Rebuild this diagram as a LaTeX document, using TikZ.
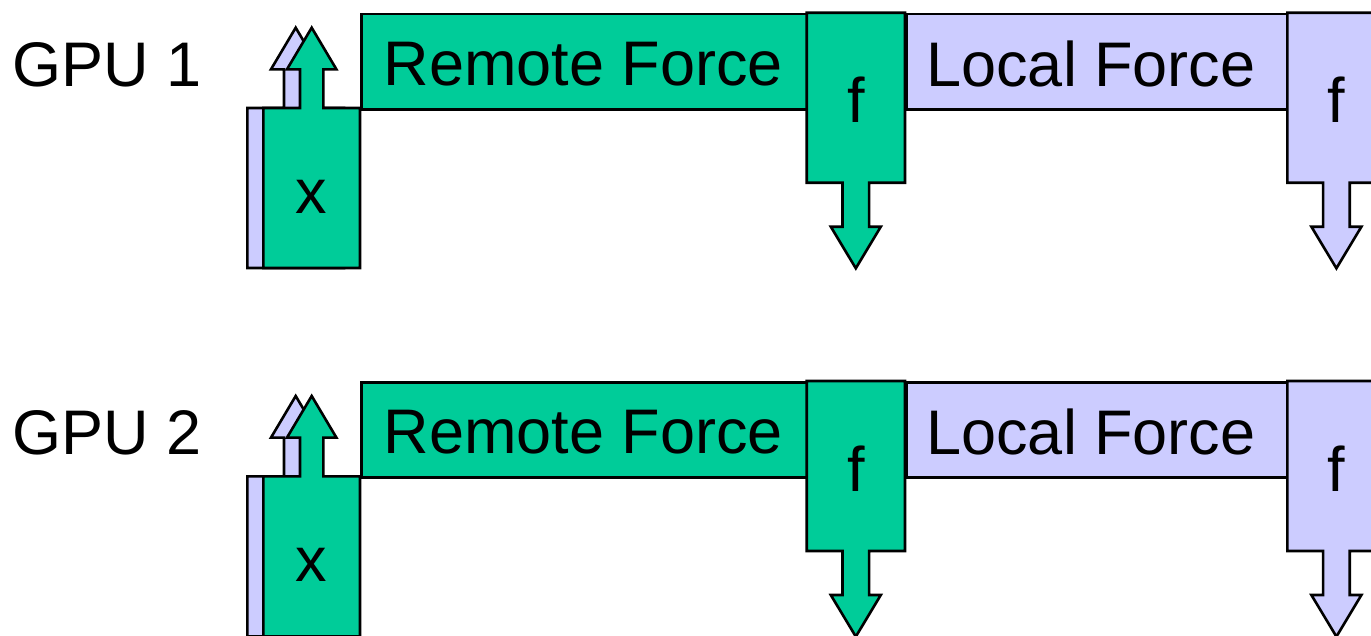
\documentclass[tikz,border=0pt]{standalone}
\usepackage{fontspec}
\setmainfont{Liberation Sans}
\definecolor{mint}{RGB}{0,204,153}
\definecolor{lilac}{RGB}{204,204,255}
\begin{document}
\begin{tikzpicture}[x=1pt,y=-1pt,
  outl/.style={draw=black,line width=2.6pt,line join=miter},
  bar/.style={outl,rectangle,inner sep=0pt,minimum height=95.3pt,font=\fontsize{63}{70}\selectfont},
  lbl/.style={inner sep=0pt,font=\fontsize{63}{70}\selectfont},
]
\useasboundingbox (0,0) rectangle (1371,635);
\foreach \r/\dy in {1/0,2/368.3}{
  \begin{scope}[yshift=-\dy pt]
    % row label
    \node[lbl,anchor=west] (gpu\r) at (12,65) {GPU \r};
    % position upload: shadow copy, then the front block with its up arrow
    \begin{scope}[xshift=-16pt]
      \path[outl,fill=lilac] (263.3,268) -- (263.3,108) -- (300,108) -- (300,69.3)
        -- (287,69.3) -- (311.7,27.7) -- (336.4,69.3) -- (323.4,69.3) -- (323.4,108)
        -- (360,108) -- (360,268) -- cycle;
    \end{scope}
    \path[outl,fill=mint] (263.3,268) -- (263.3,108) -- (300,108) -- (300,69.3)
      -- (287,69.3) -- (311.7,27.7) -- (336.4,69.3) -- (323.4,69.3) -- (323.4,108)
      -- (360,108) -- (360,268) -- cycle;
    \node[lbl] (x\r) at (311.7,197) {x};
    % force kernels
    \node[bar,fill=mint,anchor=north west,minimum width=446.7pt] (remote\r) at (360,12.7) {};
    \node[lbl] (remotetxt\r) at (583.3,64) {Remote Force};
    \node[bar,fill=lilac,anchor=north west,minimum width=382.3pt] (local\r) at (905,12.7) {};
    \node[lbl] (localtxt\r) at (1091,64) {Local Force};
    % force download blocks with down arrows
    \foreach \sx/\col/\nm in {0/mint/a,480.6/lilac/b}{
      \begin{scope}[xshift=\sx pt]
        \path[outl,fill=\col] (806.7,12.7) -- (905,12.7) -- (905,182.7) -- (869.1,182.7)
          -- (869.1,226.7) -- (880.8,226.7) -- (855.8,268.3) -- (830.8,226.7)
          -- (842.5,226.7) -- (842.5,182.7) -- (806.7,182.7) -- cycle;
        \node[lbl] (f\nm\r) at (855.8,100) {f};
      \end{scope}
    }
  \end{scope}
}
\end{tikzpicture}
\end{document}
